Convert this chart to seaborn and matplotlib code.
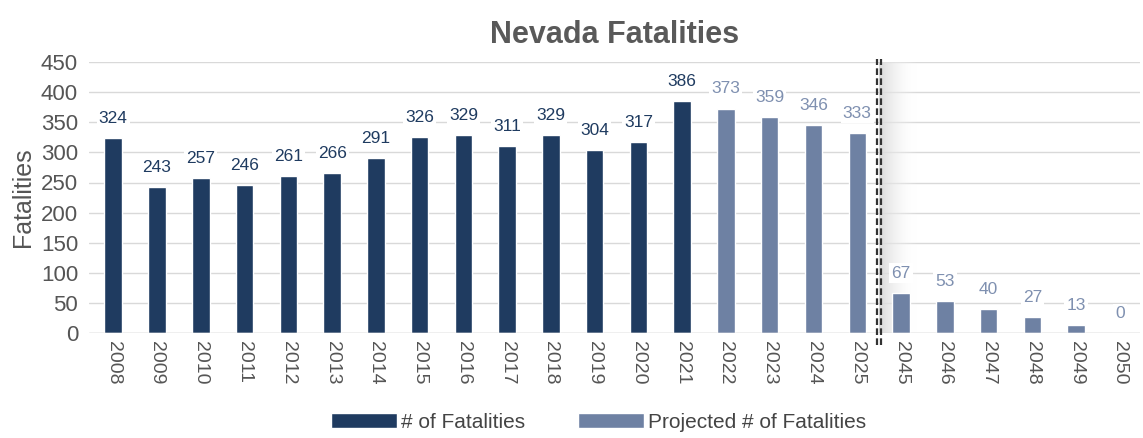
import pandas as pd
import numpy as np
import matplotlib
matplotlib.use("Agg")
import matplotlib.pyplot as plt
import seaborn as sns

# Data
years = ["2008", "2009", "2010", "2011", "2012", "2013", "2014", "2015",
         "2016", "2017", "2018", "2019", "2020", "2021", "2022", "2023",
         "2024", "2025", "2045", "2046", "2047", "2048", "2049", "2050"]
fatalities = [324, 243, 257, 246, 261, 266, 291, 326, 329, 311, 329, 304,
              317, 386, 373, 359, 346, 333, 67, 53, 40, 27, 13, 0]
kind = ["# of Fatalities"] * 14 + ["Projected # of Fatalities"] * 10

dark = "#1f3b60"
light = "#6e81a3"

data = pd.DataFrame({"Year": years, "Fatalities": fatalities, "Kind": kind})

sns.set_style("white")
plt.rcParams["font.family"] = ["Liberation Sans Narrow", "Liberation Sans", "DejaVu Sans"]

fig, ax = plt.subplots(figsize=(11.43, 4.38), dpi=100)
fig.subplots_adjust(left=0.078, right=0.997, top=0.858, bottom=0.24)

sns.barplot(data=data, x="Year", y="Fatalities", hue="Kind",
            palette={"# of Fatalities": dark, "Projected # of Fatalities": light},
            dodge=False, width=0.4, saturation=1, ax=ax, zorder=3)

# Data labels
for i, (v, k) in enumerate(zip(fatalities, kind)):
    c = dark if k == "# of Fatalities" else "#7f90b0"
    ax.text(i, v + 20, str(v), ha="center", va="bottom", fontsize=12.5, color=c,
            zorder=5, bbox=dict(facecolor="white", edgecolor="none", pad=1.5))

ax.yaxis.grid(True, color="#d9d9d9", linewidth=1, zorder=0)
for s in ax.spines.values():
    s.set_visible(False)
ax.axhline(0, color="#d0d0d0", linewidth=1, zorder=4)

ax.tick_params(axis="y", labelsize=16, colors="#555555", length=0, pad=8)
ax.tick_params(axis="x", labelsize=14, colors="#555555", length=0, rotation=-90, pad=6)
ax.set_xlabel("")
ax.set_ylabel("Fatalities", fontsize=18, color="#555555", labelpad=4)
ax.set_title("Nevada Fatalities", fontsize=22, fontweight="bold", color="#595959", pad=14)

# Break between 2025 and 2045
brk = 17.5
grad = np.linspace(1, 0, 100).reshape(1, -1)
ax.imshow(grad, extent=(brk, brk + 0.85, 0, 450), aspect="auto",
          cmap=matplotlib.colors.LinearSegmentedColormap.from_list(
              "g", [(1, 1, 1, 0), (0.85, 0.85, 0.85, 1)]),
          zorder=1)
for dx in (-0.05, 0.05):
    ax.plot([brk + dx, brk + dx], [-20, 455], color="#333333", linewidth=1.6,
            linestyle=(0, (3, 1.5)), clip_on=False, zorder=6)

ax.set_ylim(0, 450)
ax.set_yticks(range(0, 451, 50))
ax.set_xlim(-0.55, len(years) - 0.55)

ax.legend(loc="upper center", bbox_to_anchor=(0.485, -0.225), ncol=2, frameon=False,
          fontsize=15, handlelength=3.2, handleheight=0.8, columnspacing=2.5,
          handletextpad=0.2, labelcolor="#444444")

fig.savefig("out.png", dpi=100)
